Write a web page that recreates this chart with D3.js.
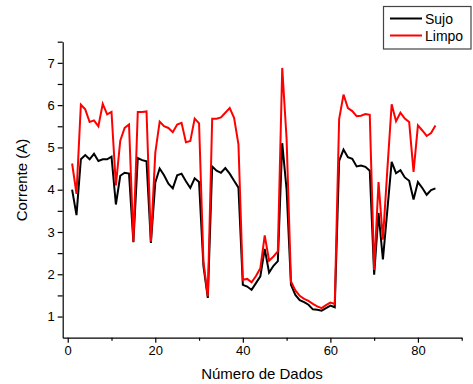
<!DOCTYPE html>
<html>
<head>
<meta charset="utf-8">
<script src="https://cdn.jsdelivr.net/npm/d3@7"></script>
<style>
  body { margin: 0; background: #fff; }
  #chart { width: 473px; height: 384px; }
  text { font-family: Arial, "Liberation Sans", sans-serif; }
</style>
</head>
<body>
<div id="chart"></div>
<script>
// Data (x = 1..84)
const sujo = [
  4.0, 3.4, 4.72, 4.82, 4.72, 4.85, 4.68, 4.72, 4.72, 4.78,
  3.65, 4.33, 4.4, 4.38, 2.76, 4.75, 4.7, 4.67, 2.74, 4.17,
  4.5, 4.34, 4.14, 4.03, 4.34, 4.38, 4.2, 4.04, 4.27, 4.18,
  2.2, 1.44, 4.55, 4.45, 4.4, 4.51, 4.38, 4.21, 4.05, 1.75,
  1.71, 1.63, 1.79, 1.95, 2.6, 2.04, 2.2, 2.31, 5.1, 4.0,
  1.75, 1.51, 1.39, 1.34, 1.28, 1.17, 1.16, 1.14, 1.2, 1.26,
  1.22, 4.68, 4.95, 4.77, 4.73, 4.55, 4.57, 4.54, 4.45, 1.99,
  3.45, 2.35, 3.5, 4.66, 4.39, 4.46, 4.29, 4.21, 3.77, 4.18,
  4.04, 3.88, 3.99, 4.03
];
const limpo = [
  4.62, 3.9, 6.01, 5.9, 5.6, 5.64, 5.5, 6.03, 5.78, 5.84,
  4.1, 5.16, 5.46, 5.54, 2.77, 5.84, 5.84, 5.85, 2.77, 4.87,
  5.61, 5.5, 5.46, 5.36, 5.54, 5.58, 5.12, 5.15, 5.68, 5.57,
  2.3, 1.48, 5.68, 5.68, 5.71, 5.82, 5.93, 5.7, 5.07, 1.87,
  1.89, 1.81, 1.96, 2.14, 2.92, 2.32, 2.42, 2.54, 6.88, 5.2,
  1.83, 1.62, 1.49, 1.42, 1.37, 1.3, 1.24, 1.2, 1.27, 1.33,
  1.3, 5.67, 6.25, 5.93, 5.86, 5.74, 5.75, 5.79, 5.77, 2.1,
  4.18, 2.82, 4.45, 6.02, 5.62, 5.82, 5.68, 5.6, 4.42, 5.52,
  5.4, 5.27, 5.34, 5.52
];
const seriesNames = ["Sujo", "Limpo"];
const seriesColors = ["#000000", "#ff0000"];
const xTicks = [0, 20, 40, 60, 80];
const xMinorTicks = [10, 30, 50, 70, 90];
const yTicks = [1, 2, 3, 4, 5, 6, 7];
const yMinorTicks = [1.5, 2.5, 3.5, 4.5, 5.5, 6.5, 7.5];

const width = 473, height = 384;

const svg = d3.select("#chart")
  .append("svg")
  .attr("width", width)
  .attr("height", height);

const xScale = d3.scaleLinear()
  .domain([-1.15, 90])
  .range([62.7, 461.7]);

const yScale = d3.scaleLinear()
  .domain([0.5, 7.5])
  .range([337.7, 41.7]);

const line = d3.line()
  .x((d, i) => xScale(i + 1))
  .y(d => yScale(d));

// Lines: Sujo first, Limpo on top
[sujo, limpo].forEach((values, k) => {
  svg.append("path")
    .datum(values)
    .attr("fill", "none")
    .attr("stroke", seriesColors[k])
    .attr("stroke-width", 2)
    .attr("stroke-linejoin", "miter")
    .attr("d", line);
});

// X axis
svg.append("g")
  .attr("transform", `translate(0,${yScale(0.5)})`)
  .call(d3.axisBottom(xScale).tickValues(xTicks).tickFormat(d3.format("d"))
    .tickSize(5).tickPadding(3).tickSizeOuter(0));

svg.append("g")
  .attr("transform", `translate(0,${yScale(0.5)})`)
  .call(d3.axisBottom(xScale).tickValues(xMinorTicks).tickSize(3).tickFormat("").tickSizeOuter(0))
  .select(".domain").remove();

// Y axis
svg.append("g")
  .attr("transform", `translate(${xScale(-1.15)},0)`)
  .call(d3.axisLeft(yScale).tickValues(yTicks).tickFormat(d3.format("d"))
    .tickSize(5).tickPadding(3).tickSizeOuter(0));

svg.append("g")
  .attr("transform", `translate(${xScale(-1.15)},0)`)
  .call(d3.axisLeft(yScale).tickValues(yMinorTicks).tickSize(5).tickFormat("").tickSizeOuter(0))
  .select(".domain").remove();

svg.selectAll(".tick text")
  .attr("font-size", "13px")
  .attr("font-family", "Arial, 'Liberation Sans', sans-serif")
  .attr("fill", "#000");

svg.selectAll(".domain, .tick line")
  .attr("stroke", "#000")
  .attr("stroke-width", 1.2);

// Axis titles
svg.append("text")
  .attr("x", 262)
  .attr("y", 379)
  .attr("text-anchor", "middle")
  .attr("font-size", "15px")
  .text("Número de Dados");

svg.append("text")
  .attr("transform", `translate(27,180) rotate(-90)`)
  .attr("text-anchor", "middle")
  .attr("font-size", "15px")
  .text("Corrente (A)");

// Legend
const legend = svg.append("g")
  .attr("class", "legend");

legend.append("rect")
  .attr("x", 383.5)
  .attr("y", 6.5)
  .attr("width", 87.5)
  .attr("height", 42.5)
  .attr("fill", "#fff")
  .attr("stroke", "#444")
  .attr("stroke-width", 1.2);

seriesNames.forEach((name, i) => {
  const ly = 18.5 + i * 17;
  legend.append("line")
    .attr("x1", 390)
    .attr("x2", 422)
    .attr("y1", ly)
    .attr("y2", ly)
    .attr("stroke", seriesColors[i])
    .attr("stroke-width", 2);

  legend.append("text")
    .attr("x", 425)
    .attr("y", ly + 5)
    .attr("font-size", "14px")
    .attr("fill", "#000")
    .text(name);
});
</script>
</body>
</html>
